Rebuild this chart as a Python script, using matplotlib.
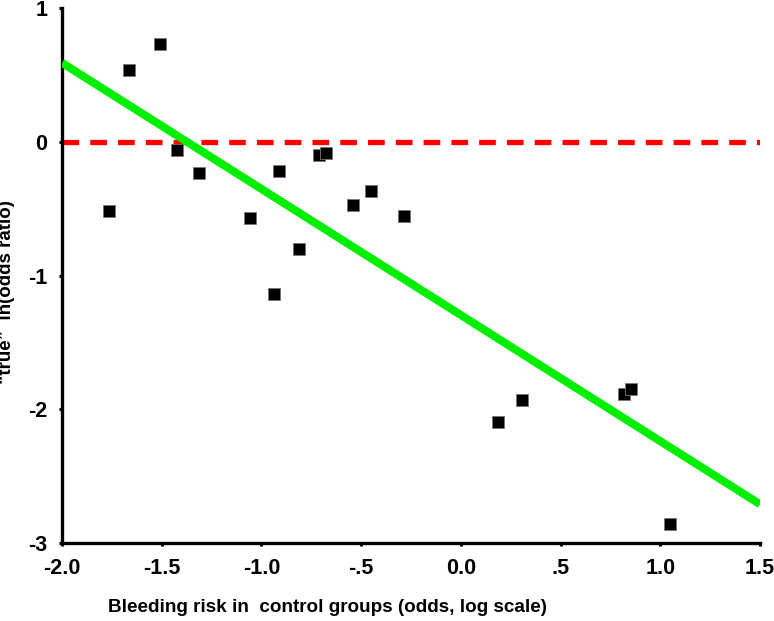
import matplotlib
matplotlib.use("Agg")
import matplotlib.pyplot as plt

plt.rcParams['font.family'] = ['Liberation Sans', 'DejaVu Sans']
plt.rcParams['font.weight'] = 'bold'
plt.rcParams['lines.scale_dashes'] = False

# Trial-level points: control-group bleeding risk vs "true" log odds ratio
risk_x = [-1.764, -1.664, -1.509, -1.423, -1.313, -1.057, -0.912, -0.937, -0.811,
          -0.711, -0.676, -0.541, -0.450, -0.285, 0.186, 0.307, 0.818, 0.853, 1.049]
log_or = [-0.515, 0.534, 0.729, -0.058, -0.236, -0.567, -0.215, -1.135, -0.800,
          -0.100, -0.083, -0.470, -0.368, -0.552, -2.098, -1.928, -1.885, -1.845, -2.855]

# Fitted regression line endpoints
fit_x = [-2.0, 1.5]
fit_y = [0.59, -2.71]

# Reference line of no effect
null_x = [-2.0, 1.5]
null_y = [0.0, 0.0]

xticks = [-2.0, -1.5, -1.0, -0.5, 0.0, 0.5, 1.0, 1.5]
xtick_labels = ['-2.0', '-1.5', '-1.0', '-.5', '0.0', '.5', '1.0', '1.5']
yticks = [1, 0, -1, -2, -3]
ytick_labels = ['1', '0', '-1', '-2', '-3']

fig = plt.figure(figsize=(7.74, 6.21), dpi=100)
ax = fig.add_axes([62 / 774, 1 - 543 / 621, (760 - 62) / 774, (543 - 8) / 621])

ax.plot(null_x, null_y, color='#ff0000', lw=3.8, dashes=(12, 8), zorder=2,
        solid_capstyle='butt', dash_capstyle='butt')
ax.plot(fit_x, fit_y, color='#00ee00', lw=5.8, zorder=3, solid_capstyle='butt')
ax.plot(risk_x, log_or, linestyle='none', marker='s', markersize=8,
        markerfacecolor='black', markeredgecolor='#777777', markeredgewidth=0.6, zorder=4)

ax.set_xlim(-2.0, 1.5)
ax.set_ylim(-3, 1)
ax.set_xticks(xticks)
ax.set_xticklabels(xtick_labels)
ax.set_yticks(yticks)
ax.set_yticklabels(ytick_labels)

for side in ('top', 'right'):
    ax.spines[side].set_visible(False)
for side in ('left', 'bottom'):
    ax.spines[side].set_linewidth(2.4)
    ax.spines[side].set_color('black')

ax.tick_params(axis='both', direction='out', length=2.5, width=2.2, labelsize=15.5,
               color='black')
ax.tick_params(axis='x', pad=8)
ax.tick_params(axis='y', pad=8)
for lab in ax.get_xticklabels() + ax.get_yticklabels():
    lab.set_fontweight('bold')

fig.text(108 / 774, 1 - 607 / 621, 'Bleeding risk in  control groups (odds, log scale)',
         ha='left', va='center', fontsize=13.6, fontweight='bold')
fig.text(7 / 774, 1 - 292 / 621, '\u201ctrue\u201d  ln(odds ratio)', rotation=90,
         ha='center', va='center', fontsize=13.5, fontweight='bold')

fig.savefig('out.png', dpi=100)
